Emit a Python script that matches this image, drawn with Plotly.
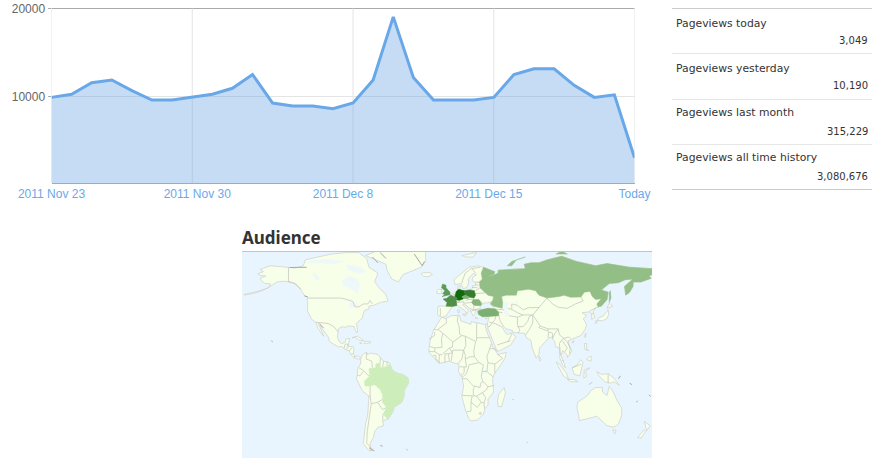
import plotly.graph_objects as go

# ---------- line chart data ----------
day_index = list(range(30))
pageviews = [9900,10250,11570,11870,10660,9600,9600,9950,10250,10930,12500,9260,8920,8920,8620,9260,
             11870,19050,12170,9600,9600,9600,9900,12500,13150,13150,11270,9900,10190,3049]
tick_positions = [0,7.25,14.5,21.75,29]
tick_labels = ["2011 Nov 23","2011 Nov 30","2011 Dec 8","2011 Dec 15","Today"]
grid_days = [0,7,15,22,29]
stat_labels = ["Pageviews today","Pageviews yesterday","Pageviews last month","Pageviews all time history"]
stat_values = ["3,049","10,190","315,229","3,080,676"]

# ---------- map data: (lon, lat) outlines ----------
LAND = [
 [(-180,51),(-172,52.2),(-165,53.8),(-158,56.5),(-157,58.7),(-162,59),(-165,61),(-166,62.5),(-161,64),(-166,64.5),(-168,65.6),(-163,67),(-166,68.5),(-157,71),(-150,70.5),(-141,69.7),(-135,69.5),(-128,71),(-126,75),(-115,77),(-103,79),(-90,80),(-79,80),(-72,76),(-70,70),(-62,66),(-65,60),(-60,55),(-55.6,52),(-53,47),(-60,46),(-66,44),(-70,43.5),(-70,41.7),(-74,40.5),(-75.5,37),(-76,35),(-78,34),(-81,31.5),(-80,27),(-80.5,25.2),(-82,27),(-83,29.5),(-85,29.8),(-89,30),(-90,29),(-94,29.5),(-97,28),(-97.5,25),(-97.8,22),(-96,19),(-94,18),(-91,18.7),(-90.5,21),(-87,21.5),(-88,18),(-88.5,16),(-84,15.8),(-83.3,14),(-83.7,11),(-82,9),(-79.5,9.5),(-77.5,8.5),(-78,7.5),(-80,7.5),(-83,8.3),(-85.5,10),(-87.5,13),(-91,14),(-94,16),(-97,15.8),(-101,17.5),(-105,19.5),(-105.5,22),(-109,26),(-112,29),(-113,31.5),(-114.7,31.7),(-112,27),(-110,23),(-112,25),(-115,28.5),(-117,32.5),(-120.5,34.5),(-122.5,37.5),(-124.3,40.5),(-124,46),(-124.7,48.4),(-123,49),(-127,51),(-130,54.5),(-134,58),(-139,60),(-146,60.5),(-151,60),(-154,58.5),(-160,55.5),(-172,52.8),(-180,51.6)],
 [(-73,78),(-60,82),(-30,84),(-20,81),(-20,74),(-24,70),(-40,65),(-44,60),(-50,62),(-54,68),(-55,72),(-68,76)],
 [(-24,65.5),(-22,64),(-18,63.5),(-14,65),(-16,66.3),(-22,66.3)],
 [(-85,22),(-80,23),(-74.5,20),(-78,20),(-82,22.3)],
 [(-74,19.5),(-69,19.5),(-68.5,18.5),(-74,18)],
 [(-78.3,18.4),(-76.3,18.2),(-77,17.8)],
 [(-77,8.5),(-75,11),(-72,12),(-71.5,10.5),(-68,11.5),(-62,10.5),(-60,8.5),(-57,6),(-52,5),(-50,1),(-48,-1),(-44,-2.5),(-40,-3),(-35.5,-5.5),(-35,-9),(-39,-14),(-39,-18),(-41,-22),(-48,-25.5),(-48.5,-28),(-53,-33.5),(-58,-34.5),(-57,-38),(-62,-39),(-65,-42),(-66,-46),(-69,-50),(-68.5,-53),(-65,-55),(-70,-55),(-75,-50),(-74,-43),(-73,-37),(-71,-30),(-70,-18),(-76,-14),(-81,-6),(-80,-2),(-80,1),(-77.5,4),(-77.5,7)],
 [(-6,35.8),(-2,35),(3,37),(10,37.3),(11,33.5),(15,32.3),(20,31),(20,33),(25,32),(32,31),(34,31.5),(32.5,30),(35,24),(37,21),(39,16),(43,12),(44,10.5),(51,12),(50,8),(45,2),(41,-2),(39,-6),(40,-15),(35,-20),(35,-24),(32.5,-26),(31,-30),(26,-34),(20,-34.8),(18,-33),(15,-27),(12,-18),(13.5,-11),(12,-5),(9,-1),(9.5,4),(6,4.5),(1,6),(-4,5),(-8,4.5),(-13,8.5),(-17,12),(-17,15),(-16,20),(-13,27),(-9.5,31)],
 [(49.3,-12),(50.3,-16),(47,-25),(44,-25),(43.5,-21),(44.5,-16.5)],
 [(-9,37),(-9.5,39),(-9,43.5),(-2,43.5),(-1,46),(-4.5,48.3),(-1.5,48.7),(2,51),(4,52),(8,54),(8.5,57),(10.5,57.5),(10,54.5),(14,54),(19,54.5),(21,55),(21.5,57.5),(24,57.5),(24,59.3),(30,60),(23,60),(21,61),(21.5,63),(25,65),(22,65.8),(17.5,62),(18,59.5),(16,56),(13,55.5),(11,59),(6,58),(5,61.5),(12,66),(18,70),(26,71),(31,70),(41,67),(40,65),(35,64),(38,64),(44,66),(44,68),(54,68.5),(60,69),(68,69),(67,72),(73,73),(80,73),(87,75),(100,77.5),(113,74),(130,71),(140,72.5),(160,70),(172,69.5),(180,69),(180,65),(177,64),(179,62.5),(170,60),(163,60),(163,57),(160,53),(156.5,51),(155.5,57),(163,62),(156,61.5),(150,59.5),(142,59),(135,54.5),(141,53),(140,48),(135,43.5),(132,43),(130,42.5),(127.5,39.5),(129.5,36),(126.5,34.5),(126.5,37.5),(125,39.7),(121,39),(118,39),(122,37),(119,35),(122,31),(121,28),(117,23.5),(110,21),(106,20),(106,18),(109,13),(107,10.5),(105,8.6),(105,10),(101,13.3),(99.5,10),(103.5,1.5),(101,3),(98.5,8),(98,15),(94.5,16),(94,19),(91,22.5),(88,21.5),(86.5,20),(80.5,15),(80,11),(77.5,8),(74,15),(73,20),(69,22),(67,25),(61,25.2),(57,25.5),(56.5,27),(51,28),(48.5,30),(47.5,29),(50,26),(51.5,25),(52,24),(56,25.5),(59.5,22.5),(55,17),(45,13),(43,13),(39,21),(35,28),(34.5,31.5),(36,35),(36,36.5),(30,36.3),(26.5,38),(26.5,40),(29,41),(35,42),(41.5,41.5),(38,44.5),(39,47),(34,45.5),(33,46),(30,45),(28,43),(28,41),(24,40.8),(23.5,38),(22,36.7),(19.5,40.5),(19,42),(14,45),(12.5,44.5),(18,40.5),(16,38),(15.5,40),(10.5,43),(8,44),(3.5,43.3),(0,39.5),(-2,36.8),(-5.5,36)],
 [(-10,52),(-6,52.2),(-6,55),(-8.5,55),(-10,54)],
 [(12.5,38),(15.5,38),(15,36.8)],
 [(8.3,41),(9.7,41),(9.5,39),(8.5,39)],
 [(23.5,35.5),(26,35.2),(24,35)],
 [(32.5,35),(34.5,35.6),(33.5,34.7)],
 [(12,78),(25,80),(22,77),(15,77)],
 [(131,34),(136,33.5),(140,35),(141.5,38),(141,41),(140,40),(137,37),(133,35.5)],
 [(140,42),(145,43.5),(142,45.5)],
 [(130,31.5),(132,33.5),(130,33.5)],
 [(120,23),(121.5,25),(121,22)],
 [(109,19),(111,20),(110,18.3)],
 [(80,9.5),(82,7),(80.5,6)],
 [(120,18),(122,18),(122,14),(124,13),(120.5,14)],
 [(122,7),(126,6),(126,9.5),(123.5,8.5)],
 [(95,5.5),(98,4),(104,-2),(106,-6),(102,-4.5),(97,2)],
 [(105,-6.5),(111,-6.5),(114.5,-8),(108,-8)],
 [(109,1.5),(113,3),(117,7),(119,5),(117.5,1),(116,-4),(111,-3),(110,-1)],
 [(119.5,-5.5),(120,0),(125,1.5),(121,-1),(122,-4.5)],
 [(124,-10),(127,-8.4),(125,-9.8)],
 [(131,-1),(135,-3),(141,-2.6),(146,-5.5),(151,-10.5),(146,-8),(143,-9),(138,-8),(133,-4)],
 [(114,-22),(122,-18),(126,-14),(130,-12),(136,-12),(136,-15),(140,-17.5),(142,-11),(145.5,-15),(149,-21),(153,-26),(153,-31),(150,-37),(146,-39),(140,-38),(136,-35),(131,-31.5),(124,-33),(115.5,-34.5),(115,-31),(113.5,-26)],
 [(145,-41),(148,-41),(147,-43.5)],
 [(173,-35),(178,-38),(175,-41.5),(174,-39)],
 [(172.5,-41),(174,-42),(170,-46.5),(167,-46)],
]

WATER = [
 [(-94,61),(-88,64),(-80,62),(-78,58),(-80,52),(-85,55),(-92,57)],
 [(-125,73),(-112,73),(-100,72),(-92,74),(-105,75.5),(-120,75)],
 [(-90,72),(-78,70),(-72,67),(-80,66),(-88,68)],
 [(-121,66),(-117,66),(-113,62),(-116,61)],
 [(-92,47),(-85,48),(-85,46.5),(-88,46.5)],
 [(-87.5,46),(-81,46),(-80,44),(-82.5,43),(-87,42)],
 [(47,45),(53,46.5),(52,42),(54,37),(50,37),(49,40)],
 [(58.5,46.5),(61.5,46.5),(60,44)],
 [(32,0),(34,0),(34,-2.8),(32,-2.8)],
]

COUNTRY_NAMES = ["Germany","Poland","France","United Kingdom","Czechia","Russia","Romania","Turkey","Brazil"]
COUNTRY_COLORS = ["#0f6a0a","#337d2c","#4f8f48","#5c9a56","#85b07b","#93bf86","#84b57a","#7cb072","#cdeebb"]
COUNTRY_SHAPES = [
 [(6,51),(7,53.5),(9,55),(14,54),(15,51),(12,50),(13.5,48.5),(10,47.5),(7.5,47.7),(6,49.5)],
 [(14,54),(19,54.5),(23,54),(24,51),(22.5,49),(19,49.5),(15,51)],
 [(-4.5,48.3),(-1.5,48.7),(2,51),(6,49.5),(8,49),(7,47.5),(7.5,44),(3.5,43.3),(-2,43.5),(-1,46)],
 [(-5.5,50),(1.5,51.3),(1.5,53),(-2,56),(-2,57.7),(-5,58.6),(-6,56),(-3,54),(-5,52),(-3,51.3)],
 [(12,50),(15,51),(19,49.5),(17,48.5),(13.5,48.5)],
 [(31,70),(41,67),(40,65),(35,64),(38,64),(44,66),(44,68),(54,68.5),(60,69),(68,69),(67,72),(73,73),(80,73),(87,75),(100,77.5),(113,74),(130,71),(140,72.5),(160,70),(172,69.5),(180,69),(180,65),(177,64),(179,62.5),(170,60),(163,60),(163,57),(160,53),(156.5,51),(155.5,57),(163,62),(156,61.5),(150,59.5),(142,59),(135,54.5),(141,53),(140,48),(135,43.5),(132,43),(131,45),(135,48.5),(130,48),(127,50),(125,53.5),(120,53),(117,49.8),(108,49.5),(102,51),(98,50),(87,49),(80,51),(77,54),(71,55),(61,54),(60,51),(51,51),(47,50),(48,46),(47.5,42),(40,43.5),(37,45),(39,47),(40,50),(35,51),(32,53),(28,56),(27.5,60),(30,62),(29,66)],
 [(22,48),(27,48),(29.5,45),(28.5,43.8),(23,44),(20.5,46)],
 [(26,40),(29,41),(35,42),(41.5,41.5),(44.5,39.5),(44.5,37),(36,36.5),(30,36.3),(26.5,38)],
 [(-60,5),(-64,4),(-64,1.5),(-70,1),(-69.5,-4.2),(-74,-7.5),(-73.5,-11),(-69,-11),(-65,-10),(-60,-13.5),(-58,-17),(-58,-22),(-54.5,-25.5),(-57.5,-30),(-53.4,-33.7),(-48.5,-28),(-48,-25.5),(-41,-22),(-39,-18),(-39,-14),(-35,-9),(-35.5,-5.5),(-40,-3),(-44,-2.5),(-48,-1),(-50,1),(-51.5,4.3),(-54,2.2),(-57,2),(-60,1.5)],
]
RUSSIA_ISLANDS = [
 [(52,71),(56,74),(68,77),(60,75),(56,71)],
 [(142,46),(143.5,49),(143,54),(142,53)],
 [(95,79),(105,79),(100,81)],
]

BORDERS = [
 [(-123,49),(-95,49),(-89,48),(-84,46.5),(-82.5,43),(-79,43),(-75,45),(-71,45),(-69,47.3),(-67,45)],
 [(-141,69.7),(-141,60),(-135,59),(-130,55)],
 [(-117,32.5),(-108,31.5),(-106,31.7),(-101,29.5),(-97.2,26)],
 [(-92,14.6),(-91,17.5),(-89,17.8),(-88.5,16)],[(-89.2,15.8),(-89.5,14)],[(-87.5,13),(-85,15)],[(-85.5,11),(-83.7,11)],[(-83,8.3),(-82.7,9.5)],
 [(-72,12),(-72.5,7.5),(-67.5,6),(-67,1.5)],[(-60,8.5),(-60,5)],[(-57,6),(-58,2)],[(-54,5.8),(-54,2.2)],
 [(-79,1.5),(-75,-0.2),(-70,-4.2)],[(-80.3,-3.5),(-78,-4),(-75,-1)],[(-69,-11),(-69,-17.5),(-70.3,-18.3)],
 [(-69,-17.5),(-68,-23),(-62.5,-22),(-58,-20)],[(-62.5,-22),(-58,-27),(-54.5,-25.5)],
 [(-68,-23),(-70,-33),(-71.5,-42),(-72,-50),(-68.5,-52.5),(-68.5,-55)],[(-58,-34),(-57.5,-30)],
 [(-2,35),(-1.5,32),(-8.7,28),(-8.7,27.3)],[(-13,27.6),(-8.7,27.3),(-4.8,25),(-6,21),(-5.5,15.5),(-12,15),(-16.5,16)],[(-12,26),(-12,23.5),(-17,21)],
 [(-4.8,25),(1.5,21),(4,19),(12,23.5)],[(8.5,37),(8,33),(9.5,30),(10,24.5),(12,23.5),(15,23),(24,19.5),(25,20),(25,32)],[(25,22),(37,22)],
 [(24,19.5),(22.5,13),(23,9)],[(15,23),(15.5,16.5),(13.5,13.5)],[(3.5,11.7),(4,13.5),(13.5,13.5)],[(4,19),(3.5,15.5),(1,15),(3.5,11.7)],[(1,15),(-5,11)],
 [(-5.5,10.5),(-8,10.5),(-12,12.5),(-12,15)],[(-12,12.5),(-16.8,12.5)],[(-13.5,9.7),(-11,10),(-11,8),(-7.7,4.4)],[(-8,10.5),(-8,5)],
 [(-3,5),(-3,11),(0,11),(1,6)],[(0,11),(3.5,11.7),(2.7,6.3)],[(8.7,4.5),(12,7.5),(13.5,13.5)],[(13.5,13.5),(15,10),(15,7.5),(19,9),(23,9),(27,5)],[(15,7.5),(16,2)],
 [(9.8,2.2),(16,2)],[(11,-3.8),(14,-2),(14,2)],[(12.2,-5),(16,-2.5),(18.5,3.5),(27,5),(31,3.5),(29.5,-1.5),(29,-4.5),(30.5,-8)],[(30,-1),(34,-1),(39.5,-4.7)],
 [(36.5,14.5),(34,9),(35,5),(41,4),(41,-2)],[(36.5,14.5),(38,18)],[(36.5,14.5),(41,14.5),(43,12.5)],[(41,4),(48,8),(43,11)],[(34,-1),(35,5)],
 [(12.2,-6),(16.5,-6),(22,-11),(24,-11),(28,-12),(28.5,-9),(30.5,-8)],[(11.8,-17.3),(23,-17.5),(25,-17.8)],[(24,-11),(22,-13),(22,-16.5),(23,-17.5)],
 [(16.5,-28.5),(20,-28),(20,-22),(21,-18)],[(20,-22),(25.5,-25.5),(29,-22),(25,-17.8),(30,-15.5)],[(30,-15.5),(33,-19),(31.5,-22.5)],[(29,-22),(31.5,-22.5),(32,-26.5)],
 [(30,-15.5),(33,-14),(35,-11.5),(40.5,-10.5)],[(30.5,-8),(33,-9.5),(35,-11.5)],[(27,-29.5),(29,-29),(28.5,-30.5),(27,-29.5)],
 [(-7,42),(-7,37)],[(12,59),(12.5,61),(15,66),(20,69),(28,70)],[(24,66),(21,69)],[(21,56.3),(26,56)],[(24,58),(27.5,57.8)],
 [(23.5,52),(32,52.5),(31,55),(28,56),(24,54)],[(24,51),(22.5,48.5)],[(27,48),(29,46),(30,45.5)],[(4,51.4),(6,51)],[(2.5,51),(6,49.6)],
 [(6,46.3),(10,46.5),(9.5,47.5)],[(7,44),(7.5,45.9),(13.5,46.5),(13.5,45.5)],[(13.5,45.5),(17,46),(20.5,46),(22.5,44),(22.5,41),(19.5,42)],[(22.5,41),(26,41.5),(28.5,41.7)],
 [(16,47),(17,48),(22,48)],[(20,40),(26,41.5)],[(41.5,41.5),(46,41.5),(49,41)],[(44.5,39.5),(48,39)],
 [(44.5,37),(46,33),(48.5,30)],[(53.5,37),(61,36),(61,31),(63,27),(61.5,25)],[(42,37),(41,34),(39,32.3)],[(36,32.5),(39,32.3),(37,30),(35,29.5)],[(39,32.3),(47,29.5)],
 [(43,17),(52,19),(55,20)],[(52,19),(55,22.5),(56,25)],
 [(52.5,42),(56,41.3),(56,45),(61,44),(66,41),(71,42.5),(80,42.5),(85,47),(87,49)],[(56,41.3),(61,39),(66,37.5),(61,36)],[(66,37.5),(74.5,37.5)],
 [(61,29.5),(66,29.5),(70,33),(71.5,36.5),(74.5,37.5)],[(68,23.8),(71,27),(74.5,32),(74.5,37)],[(74.5,37.5),(80,42.5)],
 [(74.5,37.5),(79,32),(81,30),(88,28),(92,28),(97,28),(98,24),(102,21.5),(106,22.5),(108,21.5)],
 [(87,49),(92,45),(97,42.7),(105,42),(112,45),(119,47),(117,49.8)],[(81,30),(80,28.8),(88,26.5),(88,28)],[(88.5,26),(88,22)],[(92,21.5),(94,25),(97,28)],[(88.5,26),(92,25),(92,21.5)],
 [(99,10),(98.5,15),(98,18),(100,20.5),(102,21.5)],[(102,21.5),(105,19),(107.5,15),(107,11)],[(100.5,20),(105,15),(102.5,12)],[(100.5,6.5),(102,6)],
 [(124.5,40),(128,41.8),(130.5,42.5)],[(126,38),(128.5,38.5)],[(109.5,1.5),(115,3.5),(117.5,4)],[(141,-2.6),(141,-9)],
]
GREY_MARKS = [
 [(-67,77),(-62,73)],[(-60,80),(-55,76)],[(-30,79),(-23,71),(-21,74)],[(-140,69.8),(-125,70)],
 [(-110,28.5),(-113,31)],[(-60,-51.4),(-58,-52)],[(-37,-54),(-36,-54.6)],[(-156,20),(-155,19)],[(-70,-53),(-66,-55)],
 [(57,-20),(57.5,-20.5)],[(177,-17),(178.5,-18)],[(167,-21),(166,-22)],[(160,-9),(162,-10)],
 [(-124,49.8),(-127,50.5)],[(152,-4),(150,-6)],[(70,-49),(69.5,-49.5)],
]

W, H = 888, 470
fx = lambda p: p / W
fy = lambda p: 1 - p / H

def lons(poly):
    return [pt[0] for pt in poly]
def lats(poly):
    return [pt[1] for pt in poly]
def closed(poly):
    return list(poly) + [poly[0]]

fig = go.Figure()
fig.add_trace(go.Scatter(x=day_index, y=pageviews, mode="lines", fill="tozeroy",
                         line=dict(color="#68a8e8", width=3),
                         fillcolor="rgba(104,164,228,0.38)", hoverinfo="skip"))

def add_poly(poly, fill, edge="#cfcfc8", width=0.7):
    p = closed(poly)
    fig.add_trace(go.Scatter(x=lons(p), y=lats(p), xaxis="x2", yaxis="y2", mode="lines", fill="toself",
                             fillcolor=fill, line=dict(color=edge, width=width), hoverinfo="skip"))

for poly in LAND:
    add_poly(poly, "#f7ffe9")
for poly in WATER:
    add_poly(poly, "#eef8f8", edge="#eef8f8", width=0.3)

bx, by = [], []
for line in BORDERS:
    bx += lons(line) + [None]
    by += lats(line) + [None]
fig.add_trace(go.Scatter(x=bx, y=by, xaxis="x2", yaxis="y2", mode="lines",
                         line=dict(color="#c8c8c0", width=0.8), hoverinfo="skip"))

for name, color, poly in zip(COUNTRY_NAMES, COUNTRY_COLORS, COUNTRY_SHAPES):
    add_poly(poly, color, edge=color, width=0.5)
for poly in RUSSIA_ISLANDS:
    add_poly(poly, COUNTRY_COLORS[5], edge=COUNTRY_COLORS[5], width=0.5)

gx, gy = [], []
for line in GREY_MARKS:
    gx += lons(line) + [None]
    gy += lats(line) + [None]
fig.add_trace(go.Scatter(x=gx, y=gy, xaxis="x2", yaxis="y2", mode="lines",
                         line=dict(color="#a8a8a8", width=1), hoverinfo="skip"))

def pline(x0, x1, y, color):
    return dict(type="line", xref="paper", yref="paper", x0=fx(x0), x1=fx(x1), y0=fy(y), y1=fy(y),
                line=dict(color=color, width=1), layer="below")

shapes = [pline(672, 872, y, c) for y, c in
          [(8.5,"#cccccc"),(53.5,"#e6e6e6"),(99.5,"#e6e6e6"),(144.5,"#e6e6e6"),(189.5,"#cccccc")]]
shapes.append(pline(242, 652, 251.5, "#c4c4c4"))
shapes.append(pline(51.5, 634.5, 8.5, "#aaaaaa"))
shapes.append(dict(type="rect", xref="paper", yref="paper", x0=fx(242), x1=fx(652), y0=fy(458), y1=fy(252),
                   fillcolor="#e8f5fe", line=dict(width=0), layer="below"))
for d in grid_days:
    shapes.append(dict(type="line", xref="x", yref="paper", x0=d, x1=d, y0=fy(183), y1=fy(8.5),
                       line=dict(color="#e4e4e4", width=1), layer="below"))

ann = []
for lab, val, yl, yv in zip(stat_labels, stat_values, [23,68,113,158], [41,86,131,176]):
    ann.append(dict(text=lab, x=fx(676), y=fy(yl), xref="paper", yref="paper", xanchor="left", yanchor="middle",
                    xshift=-2, showarrow=False, font=dict(family="DejaVu Sans", size=10.8, color="#333333")))
    ann.append(dict(text=val, x=fx(868), y=fy(yv), xref="paper", yref="paper", xanchor="right", yanchor="middle",
                    xshift=2, showarrow=False, font=dict(family="DejaVu Sans", size=10, color="#333333")))
ann.append(dict(text="<b>Audience</b>", x=fx(242), y=fy(237), xref="paper", yref="paper", xanchor="left",
                xshift=-2, yanchor="middle", showarrow=False, font=dict(family="Noto Sans", size=17, color="#333333")))

fig.update_layout(
    width=W, height=H, margin=dict(l=0, r=0, t=0, b=0, autoexpand=False), autosize=False, showlegend=False,
    paper_bgcolor="white", plot_bgcolor="rgba(0,0,0,0)", shapes=shapes, annotations=ann,
    xaxis=dict(domain=[fx(51.5), fx(634.5)], range=[0,29], tickmode="array", tickvals=tick_positions,
               ticktext=tick_labels, tickfont=dict(family="Liberation Sans", size=12, color="#6aa9e9"),
               showgrid=False, showline=True, linecolor="#aaaaaa", ticks="", zeroline=False, automargin=False),
    yaxis=dict(domain=[fy(183), fy(8.5)], range=[170,20000], tickmode="array", tickvals=[10000,20000],
               ticktext=["10000","20000"], tickfont=dict(family="Liberation Sans", size=12, color="#666666"),
               showgrid=True, gridcolor="#e4e4e4", ticks="outside", ticklen=3, tickcolor="#aaaaaa", zeroline=False, automargin=False),
    xaxis2=dict(domain=[fx(242), fx(652)], range=[-182,179.7], anchor="y2", visible=False, fixedrange=True, automargin=False),
    yaxis2=dict(domain=[fy(458), fy(252)], range=[-60,80.4], anchor="x2", visible=False, fixedrange=True, automargin=False),
)
fig.write_html("out.html", post_script="document.body.style.margin='0';", config={"displayModeBar": False})
